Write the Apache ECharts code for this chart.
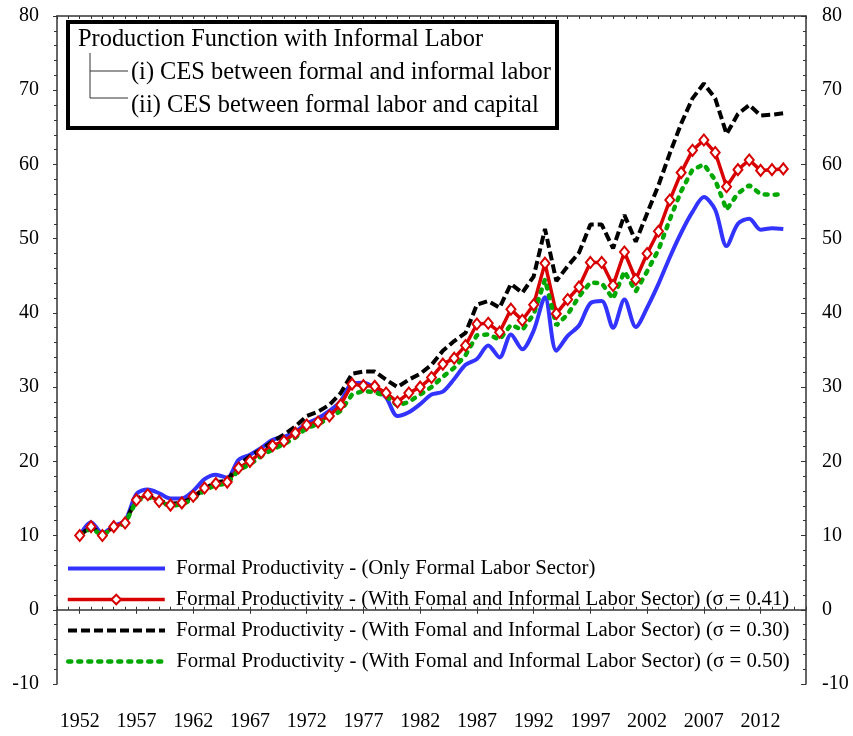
<!DOCTYPE html>
<html><head><meta charset="utf-8">
<script src="https://cdn.jsdelivr.net/npm/echarts@6/dist/echarts.min.js"></script>
<style>html,body{margin:0;padding:0;background:#fff}#c{width:853px;height:736px}</style>
</head><body><div id="c"></div>
<script>
const firstYear = 1952, lastYear = 2014;
const years = [];
for (let y = firstYear; y <= lastYear; y++) years.push(String(y));
const axisYears = ['1950', '1951'].concat(years, ['2015', '2016']);
const xTickLabels = ['1952','1957','1962','1967','1972','1977','1982','1987','1992','1997','2002','2007','2012'];

const seriesNames = [
  'Formal Productivity - (Only Formal Labor Sector)',
  'Formal Productivity - (With Fomal and Informal Labor Sector) (σ = 0.41)',
  'Formal Productivity - (With Fomal and Informal Labor Sector) (σ = 0.30)',
  'Formal Productivity - (With Fomal and Informal Labor Sector) (σ = 0.50)'
];

const onlyFormal = [10.0,11.8,10.3,11.3,12.0,15.6,16.2,15.7,15.0,15.0,16.0,17.6,18.2,17.8,20.2,20.9,21.8,22.9,23.3,24.0,
  25.1,25.8,26.8,28.1,30.5,30.6,29.9,28.6,26.1,26.6,27.7,29.0,29.4,31.1,33.0,33.8,35.6,34.0,37.1,35.1,
  37.6,42.1,34.9,36.9,38.3,41.3,41.6,38.0,41.8,38.1,40.7,43.9,47.5,50.8,53.6,55.6,53.9,49.0,52.0,52.7,
  51.2,51.4,51.3];
const sigma041 = [10.0,11.2,10.0,11.2,11.7,14.8,15.5,14.6,14.1,14.4,15.3,16.4,17.0,17.2,19.1,20.0,21.2,22.1,22.7,23.8,
  24.9,25.3,26.1,27.6,30.4,30.2,30.1,29.2,28.0,29.2,30.0,31.3,33.1,33.9,35.6,38.5,38.6,37.4,40.5,39.0,
  41.1,46.7,39.9,41.8,43.5,46.8,46.8,43.7,48.2,44.5,48.0,51.0,55.2,58.9,61.9,63.3,61.6,57.0,59.3,60.6,
  59.2,59.3,59.4];
const sigma030 = [10.0,11.3,10.0,11.2,11.8,15.0,15.5,14.7,14.3,14.4,15.1,16.3,17.2,17.4,19.5,20.7,21.6,22.7,23.6,24.7,
  26.1,26.7,27.6,29.2,31.8,32.1,32.1,31.0,30.0,31.0,31.8,33.0,34.9,36.2,37.3,41.1,41.6,40.7,43.9,42.7,
  44.9,51.3,44.3,46.3,48.1,51.9,51.9,48.7,53.2,49.6,53.4,57.2,61.5,65.5,68.9,70.9,68.9,64.1,66.8,68.0,
  66.6,66.7,66.9];
const sigma050 = [10.0,11.0,10.0,11.1,11.6,14.7,15.2,14.5,14.0,14.2,14.9,16.1,16.8,17.0,18.8,19.6,20.7,21.6,22.3,23.2,
  24.5,25.0,25.8,26.8,29.0,29.5,29.3,28.8,27.5,28.0,29.0,30.0,31.4,32.6,34.3,37.0,37.1,36.4,38.4,37.7,
  39.8,44.5,38.3,39.8,42.2,44.1,44.0,41.9,45.6,42.9,45.6,48.5,52.6,56.4,59.3,60.0,57.9,53.9,56.1,57.2,
  56.0,55.9,56.0];

const yMin = -10, yMax = 80, yStep = 10;
const titleLines = [
  'Production Function with Informal Labor',
  '(i) CES between formal and informal labor',
  '(ii) CES between formal labor and capital'
];

const FONT = 'Liberation Serif';
function pad(vals) {
  return axisYears.map(y => { const i = years.indexOf(y); return i >= 0 ? vals[i] : null; });
}

const chart = echarts.init(document.getElementById('c'));
const axisLineStyle = { color: '#333', width: 1.5 };
const yCommon = {
  type: 'value', min: yMin, max: yMax, interval: yStep,
  splitLine: { show: false },
  axisLine: { show: true, lineStyle: axisLineStyle },
  minorTick: { show: true, splitNumber: 5, length: 3, lineStyle: { color: '#333' } },
  axisLabel: { fontFamily: FONT, fontSize: 20, color: '#000' }
};
const hiddenSymbol = { color: 'rgba(0,0,0,0)', borderColor: 'rgba(0,0,0,0)', borderWidth: 0, opacity: 0 };

const lineStyles = [
  { color: '#3333ff', width: 4, type: 'solid' },
  { color: '#d80000', width: 3.5, type: 'solid' },
  { color: '#000', width: 4, type: [9, 4] },
  { color: '#00a800', width: 4.5, type: [3, 7], cap: 'round' }
];

chart.setOption({
  animation: false,
  backgroundColor: '#fff',
  grid: { left: 57, right: 47, top: 16, bottom: 52, containLabel: false },
  xAxis: [
    {
      type: 'category', data: axisYears, boundaryGap: false, position: 'bottom',
      axisLine: { lineStyle: axisLineStyle },
      axisTick: { show: true, length: 4, inside: false, interval: (i, v) => xTickLabels.includes(v), lineStyle: { color: '#333' } },
      axisLabel: { interval: (i, v) => xTickLabels.includes(v), margin: 28, fontFamily: FONT, fontSize: 20, color: '#000' },
      splitLine: { show: false }
    },
    {
      type: 'category', data: axisYears, boundaryGap: false, position: 'bottom',
      axisLine: { show: false },
      axisTick: { show: true, length: 3, inside: true, interval: 0, lineStyle: { color: '#333' } },
      axisLabel: { show: false }, splitLine: { show: false }
    },
    {
      type: 'category', data: axisYears, boundaryGap: false, position: 'top',
      axisLine: { show: true, lineStyle: axisLineStyle },
      axisTick: { show: true, length: 3, inside: true, interval: 0, lineStyle: { color: '#333' } },
      axisLabel: { show: false }, splitLine: { show: false }
    }
  ],
  yAxis: [
    Object.assign({}, yCommon, { position: 'left', axisTick: { show: true, length: 4, inside: false, lineStyle: { color: '#333' } }, axisLabel: Object.assign({}, yCommon.axisLabel, { margin: 18 }) }),
    Object.assign({}, yCommon, { position: 'right', axisTick: { show: true, length: 5, inside: true, lineStyle: { color: '#333' } }, axisLabel: Object.assign({}, yCommon.axisLabel, { margin: 16 }) })
  ],
  legend: seriesNames.map((n, i) => ({
    data: [i === 1 ? { name: n } : { name: n, itemStyle: hiddenSymbol }],
    orient: 'horizontal', left: 66, top: 558 + i * 31,
    itemWidth: 97, itemHeight: 12, padding: 0, selectedMode: false,
    lineStyle: lineStyles[i],
    textStyle: { fontFamily: FONT, fontSize: 20.8, color: '#000', padding: [0, 0, 0, 6] }
  })),
  series: [
    { name: seriesNames[0], type: 'line', data: pad(onlyFormal), smooth: 0.3, symbol: 'none',
      lineStyle: lineStyles[0], itemStyle: { color: '#3333ff' } },
    { name: seriesNames[1], type: 'line', data: pad(sigma041), symbol: 'diamond', symbolSize: [9, 11], showAllSymbol: true,
      lineStyle: lineStyles[1], itemStyle: { color: '#fff', borderColor: '#d80000', borderWidth: 2 } },
    { name: seriesNames[2], type: 'line', data: pad(sigma030), symbol: 'none',
      lineStyle: lineStyles[2], itemStyle: { color: '#000' } },
    { name: seriesNames[3], type: 'line', data: pad(sigma050), symbol: 'none',
      lineStyle: lineStyles[3], itemStyle: { color: '#00a800' } }
  ],
  graphic: [
    { type: 'rect', shape: { x: 68, y: 22, width: 489, height: 106 }, style: { fill: '#fff', stroke: '#000', lineWidth: 4 }, z: 10 },
    { type: 'text', x: 78, y: 40, style: { text: titleLines[0], font: '24.4px "Liberation Serif"', fill: '#000', verticalAlign: 'middle' }, z: 11 },
    { type: 'polyline', shape: { points: [[90, 53], [90, 98], [128, 98]] }, style: { stroke: '#333', lineWidth: 1, fill: null }, z: 11 },
    { type: 'line', shape: { x1: 90, y1: 71, x2: 128, y2: 71 }, style: { stroke: '#333', lineWidth: 1 }, z: 11 },
    { type: 'text', x: 131, y: 73, style: { text: titleLines[1], font: '24.4px "Liberation Serif"', fill: '#000', verticalAlign: 'middle' }, z: 11 },
    { type: 'text', x: 131, y: 106, style: { text: titleLines[2], font: '24.4px "Liberation Serif"', fill: '#000', verticalAlign: 'middle' }, z: 11 }
  ]
});
</script></body></html>
